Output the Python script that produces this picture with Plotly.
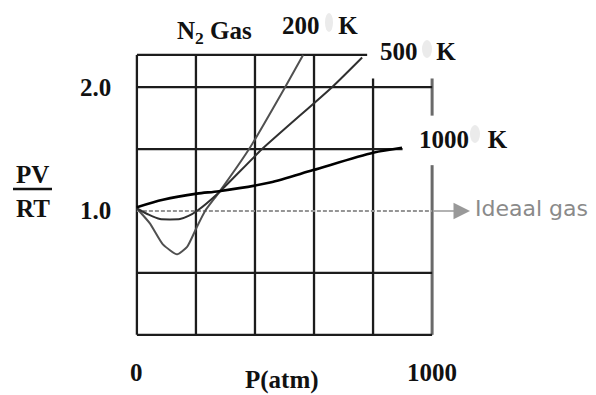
import plotly.graph_objects as go

# ---------------- data ----------------
P_200K = [0, 44, 88, 136, 170, 203, 231, 278, 380, 502, 563]
Z_200K = [1.02, 0.90, 0.73, 0.65, 0.71, 0.87, 1.00, 1.15, 1.50, 2.00, 2.26]

P_500K = [0, 40, 78, 146, 175, 203, 278, 424, 661, 763]
Z_500K = [1.02, 0.97, 0.935, 0.935, 0.96, 1.00, 1.15, 1.50, 2.00, 2.24]

P_1000K = [0, 88, 203, 278, 451, 597, 800, 898]
Z_1000K = [1.03, 1.09, 1.14, 1.16, 1.23, 1.33, 1.47, 1.51]

IDEAL_P = [0, 1000]
IDEAL_Z = [1.0, 1.0]

X_TICK_VALS = [0, 1000]
X_TICK_TEXT = ["0", "1000"]
Y_TICK_VALS = [1.0, 2.0]
Y_TICK_TEXT = ["1.0", "2.0"]

GRID_X = [0, 200, 400, 600, 800, 1000]
GRID_Y = [0, 0.5, 1.5, 2.0]

SERIES_LABELS = ["200\u00a0\u00a0\u00a0K", "500\u00a0\u00a0\u00a0K", "1000\u00a0\u00a0\u00a0K"]

# ---------------- layout constants ----------------
W, H = 596, 395
ML, MR, MT, MB = 131, 158, 50, 54
PW, PH = W - ML - MR, H - MT - MB


def pxx(px):
    return (px - ML) / PW


def pxy(py):
    return (H - MB - py) / PH


SERIF = dict(family="Liberation Serif", size=25, color="#111111", weight="bold")
GRID_C = "#1c1c1c"

fig = go.Figure()

fig.add_trace(go.Scatter(x=IDEAL_P, y=IDEAL_Z, mode="lines",
                         line=dict(color="#959595", width=2, dash="4px,2px"),
                         hoverinfo="skip"))
fig.add_trace(go.Scatter(x=P_200K, y=Z_200K, mode="lines",
                         line=dict(color="#505050", width=2, shape="spline", smoothing=0.5),
                         hoverinfo="skip"))
fig.add_trace(go.Scatter(x=P_500K, y=Z_500K, mode="lines",
                         line=dict(color="#303030", width=2, shape="spline", smoothing=0.5),
                         hoverinfo="skip"))
fig.add_trace(go.Scatter(x=P_1000K, y=Z_1000K, mode="lines",
                         line=dict(color="#000000", width=2.6, shape="spline", smoothing=0.8),
                         hoverinfo="skip"))

shapes = []
# vertical grid lines
for gx in GRID_X:
    if gx < 800:
        shapes.append(dict(type="line", x0=gx, x1=gx, y0=0, y1=2.26))
    elif gx == 800:
        shapes.append(dict(type="line", x0=gx, x1=gx, y0=0, y1=2.07))
    else:
        shapes.append(dict(type="line", x0=gx, x1=gx, y0=0, y1=1.37,
                           line=dict(color="#6a6a6a", width=3)))
        shapes.append(dict(type="line", x0=gx, x1=gx, y0=1.77, y1=2.07,
                           line=dict(color="#6a6a6a", width=3)))
# horizontal grid lines
for gy in GRID_Y:
    x_end = 900 if gy == 1.5 else 1000
    shapes.append(dict(type="line", x0=0, x1=x_end, y0=gy, y1=gy))
shapes.append(dict(type="line", x0=0, x1=780, y0=2.26, y1=2.26))

for s in shapes:
    s.setdefault("line", dict(color=GRID_C, width=2.3))
    s["xref"] = "x"
    s["yref"] = "y"
    s["layer"] = "below"

# fraction bar of PV/RT
shapes.append(dict(type="line", xref="paper", yref="paper",
                   x0=pxx(13), x1=pxx(52), y0=pxy(189), y1=pxy(189),
                   line=dict(color="#111111", width=2.5)))
# faint degree-sign smudges
for (x0, x1, y0, y1) in [(325, 333, 13, 32), (422, 432, 40, 58), (470, 480, 125, 143)]:
    shapes.append(dict(type="circle", xref="paper", yref="paper",
                       x0=pxx(x0), x1=pxx(x1), y0=pxy(y1), y1=pxy(y0),
                       fillcolor="#ebebeb", line=dict(width=0), layer="below"))

ann = []
# axis tick labels
for v, t in zip(Y_TICK_VALS, Y_TICK_TEXT):
    ann.append(dict(x=pxx(113), xref="paper", y=v, yref="y", text=t,
                    xanchor="right", yanchor="middle", font=SERIF, showarrow=False))
for v, t in zip(X_TICK_VALS, X_TICK_TEXT):
    ann.append(dict(x=v, xref="x", y=pxy(372), yref="paper", text=t,
                    xanchor="center", yanchor="middle", font=SERIF, showarrow=False))
# axis titles
ann.append(dict(x=pxx(282), y=pxy(380), xref="paper", yref="paper", text="P(atm)",
                xanchor="center", yanchor="middle", font=SERIF, showarrow=False))
ann.append(dict(x=pxx(32), y=pxy(174), xref="paper", yref="paper", text="PV",
                xanchor="center", yanchor="middle", font=SERIF, showarrow=False))
ann.append(dict(x=pxx(33), y=pxy(208), xref="paper", yref="paper", text="RT",
                xanchor="center", yanchor="middle", font=SERIF, showarrow=False))
# title
ann.append(dict(x=pxx(214), y=pxy(32), xref="paper", yref="paper",
                text="N<sub>2</sub> Gas",
                xanchor="center", yanchor="middle", font=SERIF, showarrow=False))
# series labels
for txt, (lx, ly) in zip(SERIES_LABELS, [(280, 25), (378, 51), (417, 139)]):
    ann.append(dict(x=pxx(lx), y=pxy(ly), xref="paper", yref="paper", text=txt,
                    xanchor="left", yanchor="middle", font=SERIF, showarrow=False))
# ideal gas arrow and label
ann.append(dict(x=pxx(470), y=1.0, xref="paper", yref="y", text="",
                showarrow=True, ax=-38, ay=0, arrowhead=2, arrowsize=2.2,
                arrowwidth=1.5, arrowcolor="#999999", standoff=0))
ann.append(dict(x=pxx(473), y=pxy(208), xref="paper", yref="paper", text="Ideaal gas",
                xanchor="left", yanchor="middle", showarrow=False,
                font=dict(family="DejaVu Sans", size=22, color="#8a8a8a")))

fig.update_layout(
    width=W, height=H,
    margin=dict(l=ML, r=MR, t=MT, b=MB, pad=0),
    paper_bgcolor="white", plot_bgcolor="white",
    showlegend=False,
    xaxis=dict(range=[-20, 1020], visible=False, fixedrange=True),
    yaxis=dict(range=[-0.05, 2.30], visible=False, fixedrange=True),
    shapes=shapes, annotations=ann,
)

fig.write_html("out.html", config={"displayModeBar": False},
               post_script="document.body.style.margin='0';document.body.style.padding='0';")
